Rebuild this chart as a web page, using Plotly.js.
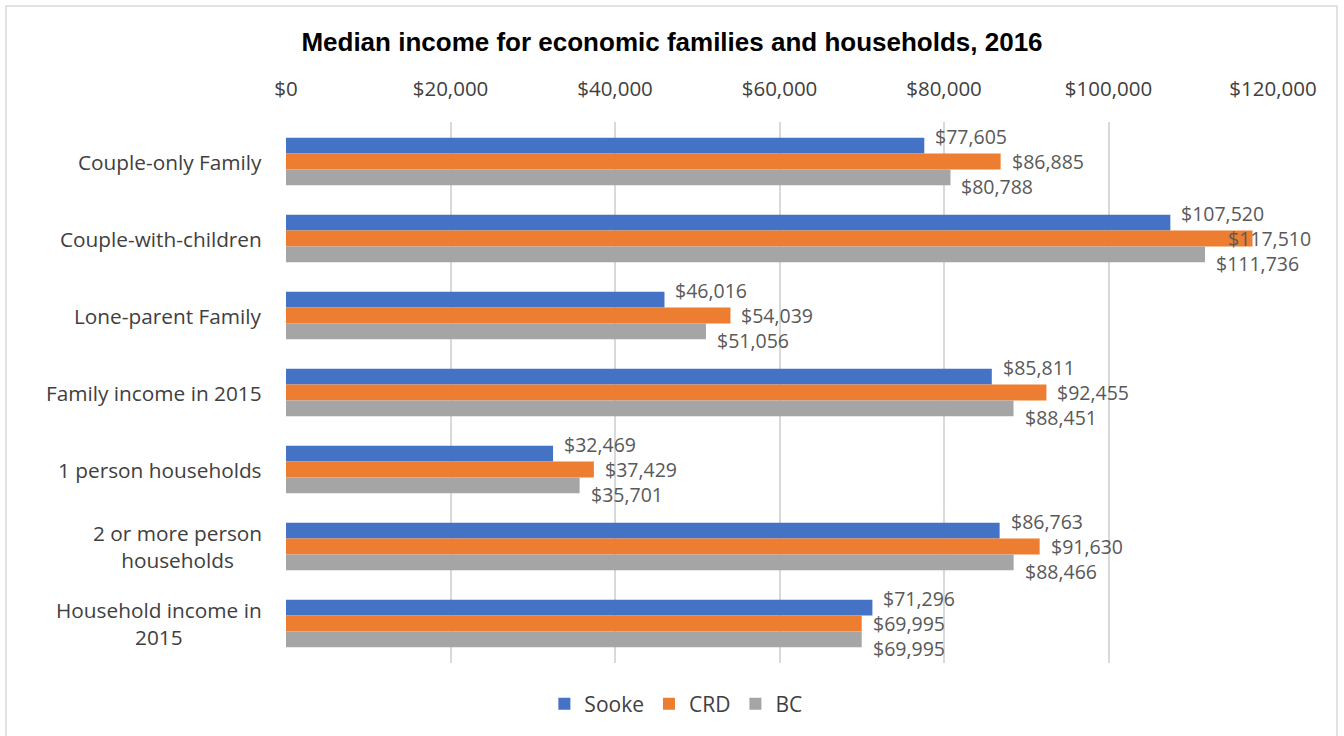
<!DOCTYPE html>
<html>
<head>
<meta charset="utf-8">
<script src="https://cdn.plot.ly/plotly-3.0.1.min.js"></script>
<style>
  html, body { margin: 0; padding: 0; background: #ffffff; }
  #chart { width: 1344px; height: 736px; }
</style>
</head>
<body>
<div id="chart"></div>
<script>
// ---- Data ----
const categories = [
  'Couple-only Family',
  'Couple-with-children',
  'Lone-parent Family',
  'Family income in 2015',
  '1 person households',
  '2 or more person households',
  'Household income in 2015'
];
const categoryLabels = [
  'Couple-only Family',
  'Couple-with-children',
  'Lone-parent Family',
  'Family income in 2015',
  '1 person households',
  '2 or more person<br>households',
  'Household income in<br>2015'
];
const sooke = [77605, 107520, 46016, 85811, 32469, 86763, 71296];
const crd   = [86885, 117510, 54039, 92455, 37429, 91630, 69995];
const bc    = [80788, 111736, 51056, 88451, 35701, 88466, 69995];
const seriesNames = ['Sooke', 'CRD', 'BC'];
const xTickVals = [0, 20000, 40000, 60000, 80000, 100000, 120000];

// ---- Styles ----
const colors = ['#4472C4', '#ED7D31', '#A5A5A5'];
const labelFont = '"Open Sans", Lato, sans-serif';
const seriesData = [sooke, crd, bc];
const labelYShift = [25, 0, -25];
const xMax = 120000;

const traces = seriesData.map((vals, i) => ({
  type: 'bar',
  orientation: 'h',
  name: seriesNames[i],
  y: categories,
  x: vals,
  marker: { color: colors[i], line: { width: 0 } },
  hoverinfo: 'skip'
}));

const annotations = [];
// category labels (centered multi-line like the original)
categories.forEach((c, k) => {
  annotations.push({
    xref: 'paper', yref: 'y', x: 0, y: c,
    xanchor: 'right', yanchor: 'middle', xshift: -22,
    text: categoryLabels[k], showarrow: false, align: 'center',
    font: { family: labelFont, size: 20.8, color: '#404040' }
  });
});
// data labels
seriesData.forEach((vals, i) => {
  vals.forEach((v, k) => {
    const nearEdge = v > 0.95 * xMax;
    annotations.push({
      xref: 'x', yref: 'y', x: v, y: categories[k],
      xanchor: 'left', yanchor: 'middle',
      xshift: nearEdge ? -26 : 10, yshift: labelYShift[i],
      text: '$' + v.toLocaleString('en-US'), showarrow: false,
      borderpad: 0,
      font: { family: labelFont, size: 19.5, color: '#595959' }
    });
  });
});

const layout = {
  width: 1344, height: 736,
  paper_bgcolor: '#ffffff', plot_bgcolor: '#ffffff',
  margin: { l: 286, r: 71, t: 122, b: 73 },
  title: {
    text: '<b>Median income for economic families and households, 2016</b>',
    x: 0.5, xref: 'container', xanchor: 'center',
    y: 1 - 42 / 736, yref: 'container', yanchor: 'middle',
    font: { family: '"Liberation Sans", Arial, sans-serif', size: 26, color: '#000000' }
  },
  barmode: 'group',
  bargap: 0.38,
  bargroupgap: 0,
  xaxis: {
    side: 'top',
    range: [0, xMax],
    tickvals: xTickVals,
    tickformat: '$,.0f',
    showgrid: true, gridcolor: '#d9d9d9', gridwidth: 2,
    zeroline: false, showline: false, ticks: '',
    ticklabelstandoff: 21,
    tickfont: { family: labelFont, size: 20.5, color: '#404040' },
    fixedrange: true
  },
  yaxis: {
    autorange: 'reversed',
    showticklabels: false,
    showgrid: false, zeroline: false, showline: false, ticks: '',
    fixedrange: true
  },
  legend: {
    orientation: 'h',
    x: 0.395, xanchor: 'center',
    y: -41 / 541, yanchor: 'middle',
    font: { family: labelFont, size: 21, color: '#404040' },
    traceorder: 'normal',
    itemwidth: 30
  },
  annotations: annotations,
  shapes: [{
    type: 'rect', xref: 'paper', yref: 'paper',
    x0: (6 - 286) / 987, x1: (1337 - 286) / 987,
    y0: (663 - 745) / 541, y1: (663 - 6) / 541,
    line: { color: '#d9d9d9', width: 1.5 }, fillcolor: 'rgba(0,0,0,0)', layer: 'below'
  }],
  hovermode: false
};

Plotly.newPlot('chart', traces, layout, { displayModeBar: false, staticPlot: true });
</script>
</body>
</html>
